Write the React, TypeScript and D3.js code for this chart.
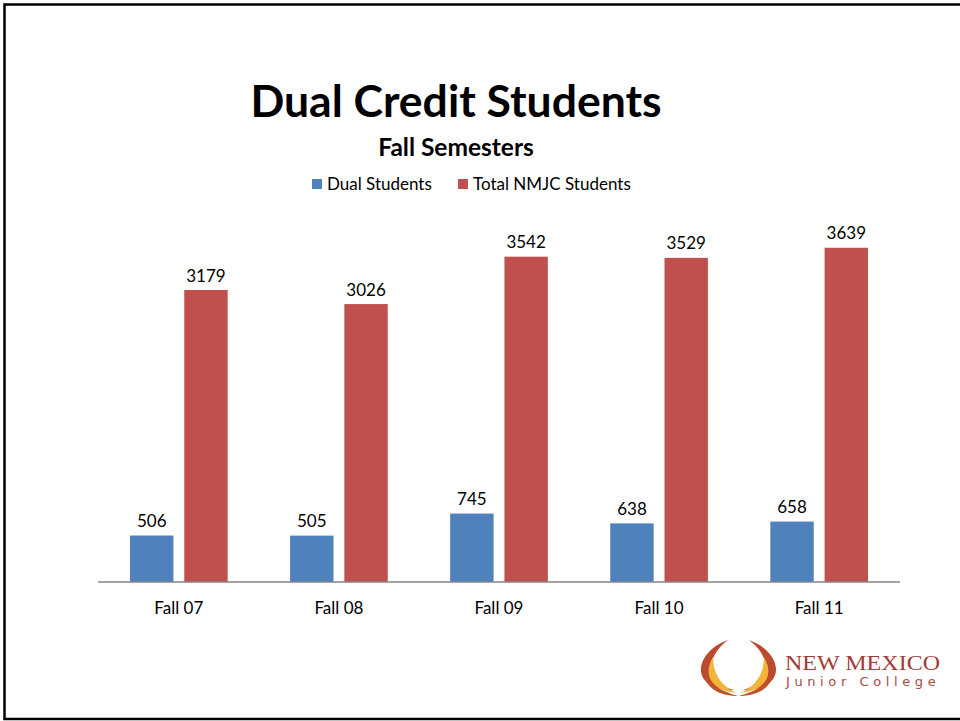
import React from "react";
import * as d3 from "d3";

const categories = ["Fall 07", "Fall 08", "Fall 09", "Fall 10", "Fall 11"];
const dualStudents = [506, 505, 745, 638, 658];
const totalStudents = [3179, 3026, 3542, 3529, 3639];
const seriesNames = ["Dual Students", "Total NMJC Students"];
const seriesColors = ["#4F81BD", "#C0504D"];

const W = 960;
const H = 721;
const FONT = "Lato, 'Open Sans', sans-serif";

export default function App() {
  const x0 = d3.scaleBand<string>().domain(categories).range([98, 900]).paddingInner(0.39).paddingOuter(0.2);
  const x1 = d3.scaleBand<number>().domain([0, 1]).range([0, x0.bandwidth()]).paddingInner(0.2);
  const y = d3.scaleLinear().domain([0, 4000]).range([582, 214.6]);
  const series = [dualStudents, totalStudents];

  const redL = "M728,640 C694,652 688,690 734,690 C706,683 704,658 728,640 Z";
  const yelL = "M713,657 C703,674 710,690 736,693 C720,685 713,673 713,657 Z";
  const darkL = "M704,676 C708,690 722,696 738,696 C724,692 712,686 704,676 Z";

  return (
    <svg width={W} height={H} style={{ position: "absolute", left: 0, top: 0, background: "#fff" }}>
      <rect x={0} y={0} width={W} height={H} fill="#fff" />
      <path d={`M${W + 5},4.5 H4.5 V719 H${W + 5}`} fill="none" stroke="#000" strokeWidth={2.5} />

      <text x={456} y={117} textAnchor="middle" fontFamily={FONT} fontWeight="bold" fontSize={44.5} fill="#000">
        Dual Credit Students
      </text>
      <text x={456} y={156} textAnchor="middle" fontFamily={FONT} fontWeight="bold" fontSize={24.5} fill="#000">
        Fall Semesters
      </text>

      {/* legend */}
      <rect x={312} y={179} width={10} height={10} fill={seriesColors[0]} />
      <text x={327} y={190} fontFamily={FONT} fontSize={17} fill="#000">{seriesNames[0]}</text>
      <rect x={458} y={179} width={10} height={10} fill={seriesColors[1]} />
      <text x={473} y={190} fontFamily={FONT} fontSize={17} fill="#000">{seriesNames[1]}</text>

      {categories.map((c, i) => (
        <g key={c}>
          {series.map((s, j) => {
            const bx = (x0(c) as number) + (x1(j) as number);
            return (
              <g key={j}>
                <rect x={bx} y={y(s[i])} width={x1.bandwidth()} height={y(0) - y(s[i])} fill={seriesColors[j]} />
                <text x={bx + x1.bandwidth() / 2} y={y(s[i]) - 8.5} textAnchor="middle" fontFamily={FONT} fontSize={17} fill="#000">
                  {s[i]}
                </text>
              </g>
            );
          })}
          <text x={(x0(c) as number) + x0.bandwidth() / 2} y={614} textAnchor="middle" fontFamily={FONT} fontSize={17} fill="#000">
            {c}
          </text>
        </g>
      ))}
      <line x1={98} x2={900} y1={582} y2={582} stroke="#868686" strokeWidth={1.5} />

      {/* logo */}
      <g>
        <path d={redL} fill="#BC4A2E" />
        <path d={yelL} fill="#F4B43A" />
        <path d={darkL} fill="#C0522A" />
        <g transform="translate(1477,0) scale(-1,1)">
          <path d={redL} fill="#BC4A2E" />
          <path d={yelL} fill="#F4B43A" />
          <path d={darkL} fill="#C0522A" />
        </g>
        <text x={785} y={670} fontFamily="'Liberation Serif', serif" fontSize={22} fill="#A33B36" textLength={155} lengthAdjust="spacingAndGlyphs">
          NEW MEXICO
        </text>
        <text x={786} y={686} fontFamily="'DejaVu Sans', sans-serif" fontSize={13} fill="#A84A45" letterSpacing={4.6}>
          Junior College
        </text>
      </g>
    </svg>
  );
}
